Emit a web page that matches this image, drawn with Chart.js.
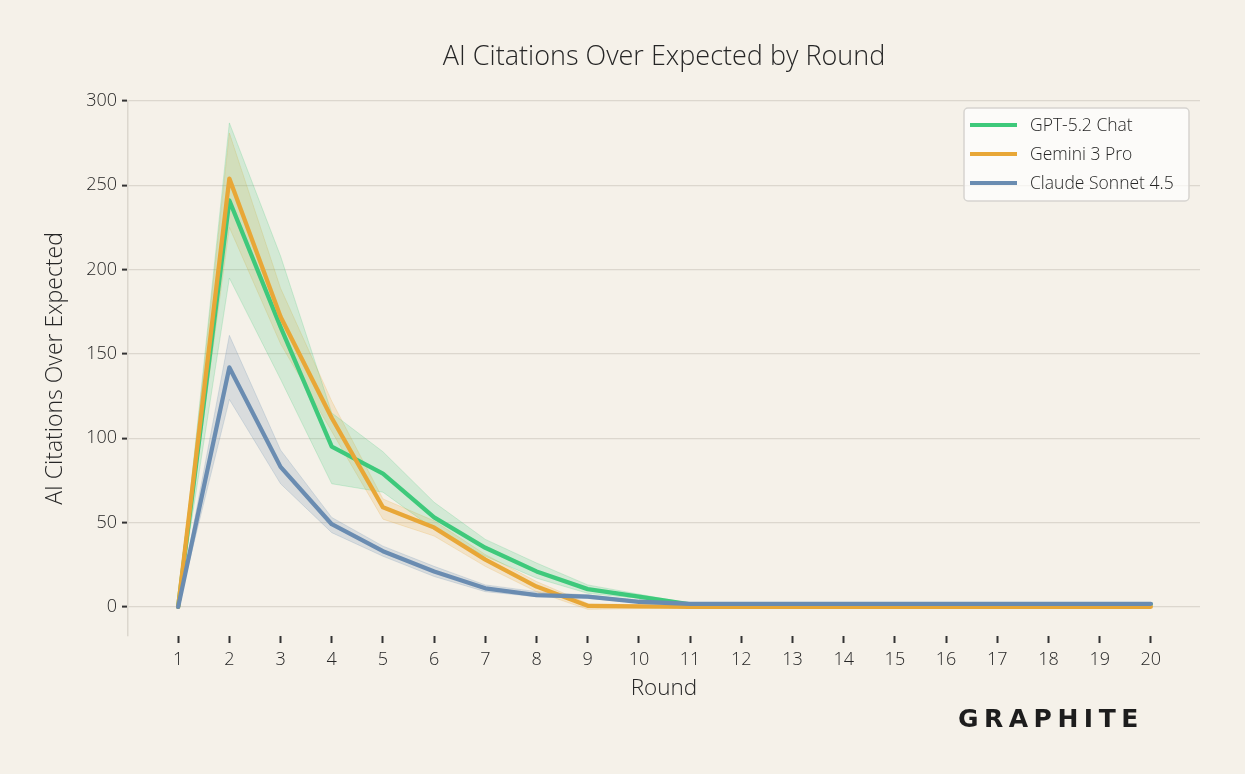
<!DOCTYPE html>
<html>
<head>
<meta charset="utf-8">
<script src="https://cdn.jsdelivr.net/npm/chart.js@4.4.1/dist/chart.umd.min.js"></script>
<style>
  html, body { margin: 0; padding: 0; background: #f5f1e9; }
  #wrap { position: relative; width: 1245px; height: 774px; }
  #logo {
    position: absolute; left: 958px; top: 704px;
    font: 700 25px "DejaVu Sans", sans-serif; letter-spacing: 5.5px; color: #1d1d1d;
  }
</style>
</head>
<body>
<div id="wrap">
  <canvas id="chart" width="1245" height="774"></canvas>
  <div id="logo">GRAPHITE</div>
</div>
<script>
// values
const rounds = [1, 2, 3, 4, 5, 6, 7, 8, 9, 10, 11, 12, 13, 14, 15, 16, 17, 18, 19, 20];
const yTicks = [0, 50, 100, 150, 200, 250, 300];

const gptMean  = [0, 241, 166, 95, 79, 53, 35, 21, 10.5, 6, 1.5, 1.5, 1.5, 1.5, 1.5, 1.5, 1.5, 1.5, 1.5, 1.5];
const gptUpper = [0, 287, 208, 115, 92, 62, 40, 26, 13, 7.5, 2, 2, 2, 2, 2, 2, 2, 2, 2, 2];
const gptLower = [0, 195, 135, 73, 68, 46, 30, 17, 8, 5, 1, 1, 1, 1, 1, 1, 1, 1, 1, 1];

const gemMean  = [0, 254, 172, 112, 59, 47, 28, 12, 0.6, 0.3, 0, 0, 0, 0, 0, 0, 0, 0, 0, 0];
const gemUpper = [0, 281, 189, 122, 64, 51, 31, 15, 2, 1.2, 0.4, 0.4, 0.4, 0.4, 0.4, 0.4, 0.4, 0.4, 0.4, 0.4];
const gemLower = [0, 225, 156, 104, 52, 42, 24, 9, -1.5, -1, -0.4, -0.4, -0.4, -0.4, -0.4, -0.4, -0.4, -0.4, -0.4, -0.4];

const claMean  = [0, 142, 83, 49, 33, 21, 11, 7, 6, 3, 1.8, 1.8, 1.8, 1.8, 1.8, 1.8, 1.8, 1.8, 1.8, 1.8];
const claUpper = [0, 161, 93, 53, 36, 24, 13, 9, 7, 4, 2.3, 2.3, 2.3, 2.3, 2.3, 2.3, 2.3, 2.3, 2.3, 2.3];
const claLower = [0, 123, 73, 44, 30, 18, 9, 6, 5, 2.5, 1.4, 1.4, 1.4, 1.4, 1.4, 1.4, 1.4, 1.4, 1.4, 1.4];

const seriesNames = ['GPT-5.2 Chat', 'Gemini 3 Pro', 'Claude Sonnet 4.5'];
const seriesColors = ['#3ec97b', '#e8a737', '#6a8cb1'];
const bandColors = ['rgba(62, 201, 123, 0.18)', 'rgba(232, 167, 55, 0.18)', 'rgba(106, 140, 177, 0.2)'];
const bandEdges = ['rgba(62, 201, 123, 0.22)', 'rgba(232, 167, 55, 0.22)', 'rgba(106, 140, 177, 0.22)'];

const FONT = '"Open Sans", "Noto Sans", sans-serif';
const TEXT = '#262626';

const pts = arr => arr.map((v, i) => ({ x: rounds[i], y: v }));

function band(upper, lower, k) {
  const base = { pointRadius: 0, borderWidth: 1, borderColor: bandEdges[k], order: 20 };
  return [
    Object.assign({}, base, { label: '_u' + k, data: pts(upper), fill: false }),
    Object.assign({}, base, { label: '_l' + k, data: pts(lower), fill: '-1', backgroundColor: bandColors[k] })
  ];
}

function line(mean, k) {
  return {
    label: seriesNames[k], data: pts(mean), borderColor: seriesColors[k], borderWidth: 4.3,
    pointRadius: 0, fill: false, order: 3 - k, borderJoinStyle: 'round', borderCapStyle: 'round'
  };
}

// title centred over the plot area
const titlePlugin = {
  id: 'plotTitle',
  afterDraw(chart) {
    const { ctx, chartArea } = chart;
    ctx.save();
    ctx.font = '300 27px ' + FONT;
    ctx.fillStyle = TEXT;
    ctx.textAlign = 'center';
    ctx.textBaseline = 'middle';
    ctx.fillText('AI Citations Over Expected by Round', (chartArea.left + chartArea.right) / 2, 57);
    ctx.restore();
  }
};

// boxed legend in the upper right corner
const legendPlugin = {
  id: 'boxLegend',
  afterDraw(chart) {
    const { ctx, chartArea } = chart;
    const w = 225, h = 93;
    const x = chartArea.right - 11 - w, y = chartArea.top + 7;
    ctx.save();
    ctx.fillStyle = 'rgba(255, 255, 255, 0.7)';
    ctx.strokeStyle = '#d6d4d0';
    ctx.lineWidth = 1.5;
    ctx.beginPath();
    ctx.roundRect(x, y, w, h, 4);
    ctx.fill();
    ctx.stroke();
    ctx.font = '300 17.5px ' + FONT;
    ctx.textBaseline = 'middle';
    seriesNames.forEach((name, k) => {
      const cy = y + 17 + k * 29;
      ctx.strokeStyle = seriesColors[k];
      ctx.lineWidth = 4;
      ctx.beginPath();
      ctx.moveTo(x + 6, cy);
      ctx.lineTo(x + 53, cy);
      ctx.stroke();
      ctx.fillStyle = TEXT;
      ctx.fillText(name, x + 66, cy + 1);
    });
    ctx.restore();
  }
};

new Chart(document.getElementById('chart'), {
  type: 'line',
  data: {
    datasets: [
      ...band(gptUpper, gptLower, 0),
      ...band(gemUpper, gemLower, 1),
      ...band(claUpper, claLower, 2),
      line(gptMean, 0),
      line(gemMean, 1),
      line(claMean, 2)
    ]
  },
  options: {
    responsive: false,
    animation: false,
    layout: { padding: { left: 0, right: 45, top: 101, bottom: 0 } },
    plugins: {
      legend: { display: false },
      title: { display: false },
      tooltip: { enabled: false }
    },
    scales: {
      x: {
        type: 'linear',
        min: 0.02,
        max: 20.96,
        afterBuildTicks: axis => { axis.ticks = rounds.map(v => ({ value: v })); },
        afterFit: axis => { axis.height = 138; },
        border: { display: false },
        grid: { drawOnChartArea: false, drawTicks: true, tickColor: '#333', tickLength: 7, tickWidth: 2 },
        ticks: { color: TEXT, font: { family: FONT, size: 18, weight: '300' }, padding: 6, maxRotation: 0, autoSkip: false },
        title: { display: true, text: 'Round', color: TEXT, font: { family: FONT, size: 22.5, weight: '300' }, padding: { top: 0, bottom: 72 } }
      },
      y: {
        min: -17.3,
        max: 300,
        afterBuildTicks: axis => { axis.ticks = yTicks.map(v => ({ value: v })); },
        afterFit: axis => { axis.width = 128; },
        border: { display: true, color: '#dcd7ce', width: 1.5 },
        grid: { color: '#dcd7ce', lineWidth: 1.2, tickColor: '#333', tickLength: 6, tickWidth: 2 },
        ticks: { color: TEXT, font: { family: FONT, size: 18, weight: '300' }, padding: 5 },
        title: { display: true, text: 'AI Citations Over Expected', color: TEXT, font: { family: FONT, size: 23, weight: '300' }, padding: { top: 42, bottom: 0 } }
      }
    }
  },
  plugins: [titlePlugin, legendPlugin]
});
</script>
</body>
</html>
